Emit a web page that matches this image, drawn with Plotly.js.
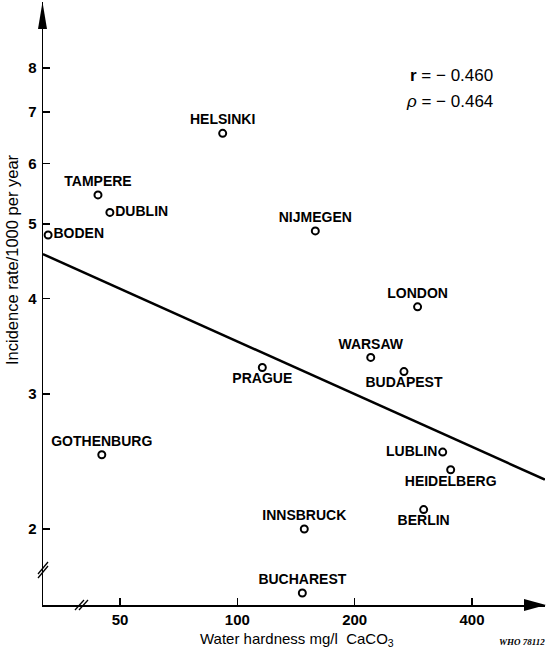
<!DOCTYPE html>
<html>
<head>
<meta charset="utf-8">
<script src="https://cdn.plot.ly/plotly-3.0.1.min.js"></script>
<style>html,body{margin:0;padding:0;background:#fff;}#chart{width:547px;height:650px;}</style>
</head>
<body>
<div id="chart"></div>
<script>
// ---- data ----
var cities = ["BODEN","TAMPERE","DUBLIN","GOTHENBURG","HELSINKI","PRAGUE","BUCHAREST","INNSBRUCK","NIJMEGEN","WARSAW","BUDAPEST","LONDON","BERLIN","LUBLIN","HEIDELBERG"];
var hardness = [32.7, 43.9, 47.1, 44.9, 91.7, 115.9, 146.8, 148.5, 158.5, 219.9, 267.6, 290, 300.6, 336.4, 352.6];
var incidence = [4.84, 5.46, 5.18, 2.50, 6.57, 3.25, 1.65, 2.00, 4.90, 3.35, 3.21, 3.90, 2.12, 2.52, 2.39];
var fitX = [31.7, 615];
var fitY = [4.57, 2.32];
var xTicks = [50, 100, 200, 400];
var yTicks = [2, 3, 4, 5, 6, 7, 8];
var statR = "-0.460";
var statRho = "-0.464";

// ---- label placement (style) ----
var labelPos = ["middle right","top center","middle right","top center","top center","bottom center","top center","top center","top center","top center","bottom center","top center","bottom center","middle left","bottom center"];

// plot area in pixels (style helpers)
var L = 43, R = 545, T = 2, B = 605;
function fx(p){ return (p - L) / (R - L); }
function fy(p){ return (B - p) / (B - T); }

var traces = [
  {
    x: fitX, y: fitY, mode: 'lines', type: 'scatter',
    line: {color: '#000', width: 2.5}, hoverinfo: 'skip'
  },
  {
    x: hardness, y: incidence, text: cities, mode: 'markers+text', type: 'scatter',
    textposition: labelPos,
    textfont: {family: 'Liberation Sans, Arial, sans-serif', size: 14, color: '#000', weight: 'bold'},
    marker: {symbol: 'circle-open', size: 7, color: '#000', line: {width: 2, color: '#000'}},
    cliponaxis: false
  }
];

var tickFont = {family: 'Liberation Sans, Arial, sans-serif', size: 15, color: '#000', weight: 'bold'};

var shapes = [
  // y-axis arrowhead
  {type: 'path', xref: 'paper', yref: 'paper',
   path: 'M ' + fx(42.5) + ' ' + fy(2) + ' L ' + fx(38) + ' ' + fy(29) + ' L ' + fx(47) + ' ' + fy(29) + ' Z',
   fillcolor: '#000', line: {width: 0}},
  // x-axis arrowhead
  {type: 'path', xref: 'paper', yref: 'paper',
   path: 'M ' + fx(546) + ' ' + fy(605) + ' L ' + fx(524) + ' ' + fy(599) + ' L ' + fx(524) + ' ' + fy(611) + ' Z',
   fillcolor: '#000', line: {width: 0}},
  // y-axis break marks
  {type: 'line', xref: 'paper', yref: 'paper', x0: fx(38), y0: fy(574), x1: fx(48), y1: fy(562), line: {color: '#000', width: 1.3}},
  {type: 'line', xref: 'paper', yref: 'paper', x0: fx(38), y0: fy(578), x1: fx(48), y1: fy(566), line: {color: '#000', width: 1.3}},
  // x-axis break marks
  {type: 'line', xref: 'paper', yref: 'paper', x0: fx(75), y0: fy(610), x1: fx(84), y1: fy(600), line: {color: '#000', width: 1.3}},
  {type: 'line', xref: 'paper', yref: 'paper', x0: fx(79), y0: fy(610), x1: fx(88), y1: fy(600), line: {color: '#000', width: 1.3}}
];

var annFont = {family: 'Liberation Sans, Arial, sans-serif', size: 15, color: '#000'};
var statFont = {family: 'Liberation Sans, Arial, sans-serif', size: 17, color: '#000'};
var annotations = [
  {xref: 'paper', yref: 'paper', x: fx(297), y: fy(639), text: 'Water hardness mg/l  CaCO<sub>3</sub>',
   showarrow: false, font: annFont, xanchor: 'center', yanchor: 'middle'},
  {xref: 'paper', yref: 'paper', x: fx(12), y: fy(260), text: 'Incidence rate/1000 per year',
   showarrow: false, font: {family: 'Liberation Sans, Arial, sans-serif', size: 16.5, color: '#000'},
   textangle: -90, xanchor: 'center', yanchor: 'middle'},
  {xref: 'paper', yref: 'paper', x: fx(495), y: fy(75), text: '<b>r</b> = \u2212 ' + statR.replace('-', ''),
   showarrow: false, font: statFont, xanchor: 'right', yanchor: 'middle'},
  {xref: 'paper', yref: 'paper', x: fx(495), y: fy(101), text: '<i>\u03c1</i> = \u2212 ' + statRho.replace('-', ''),
   showarrow: false, font: statFont, xanchor: 'right', yanchor: 'middle'},
  {xref: 'paper', yref: 'paper', x: fx(547), y: fy(642), text: '<b><i>WHO 78112</i></b>',
   showarrow: false, font: {family: 'Liberation Serif, serif', size: 9, color: '#000'}, xanchor: 'right', yanchor: 'middle'}
];

var layout = {
  width: 547, height: 650,
  margin: {l: L, r: 547 - R, t: T, b: 650 - B, pad: 0},
  paper_bgcolor: '#fff', plot_bgcolor: '#fff',
  showlegend: false,
  xaxis: {
    type: 'log', range: [1.5014, 2.7893], tickvals: xTicks, ticktext: xTicks.map(String),
    ticks: 'inside', ticklen: 7, tickwidth: 1.5, tickcolor: '#000',
    showline: true, linecolor: '#000', linewidth: 1.5, showgrid: false, zeroline: false,
    tickfont: tickFont, ticklabelstandoff: 0
  },
  yaxis: {
    type: 'log', range: [0.2018, 0.989], tickvals: yTicks, ticktext: yTicks.map(String),
    ticks: 'inside', ticklen: 7, tickwidth: 1.5, tickcolor: '#000',
    showline: true, linecolor: '#000', linewidth: 1.5, showgrid: false, zeroline: false,
    tickfont: tickFont, ticklabelstandoff: 2
  },
  shapes: shapes,
  annotations: annotations
};

Plotly.newPlot('chart', traces, layout, {staticPlot: true, displayModeBar: false});
</script>
</body>
</html>
